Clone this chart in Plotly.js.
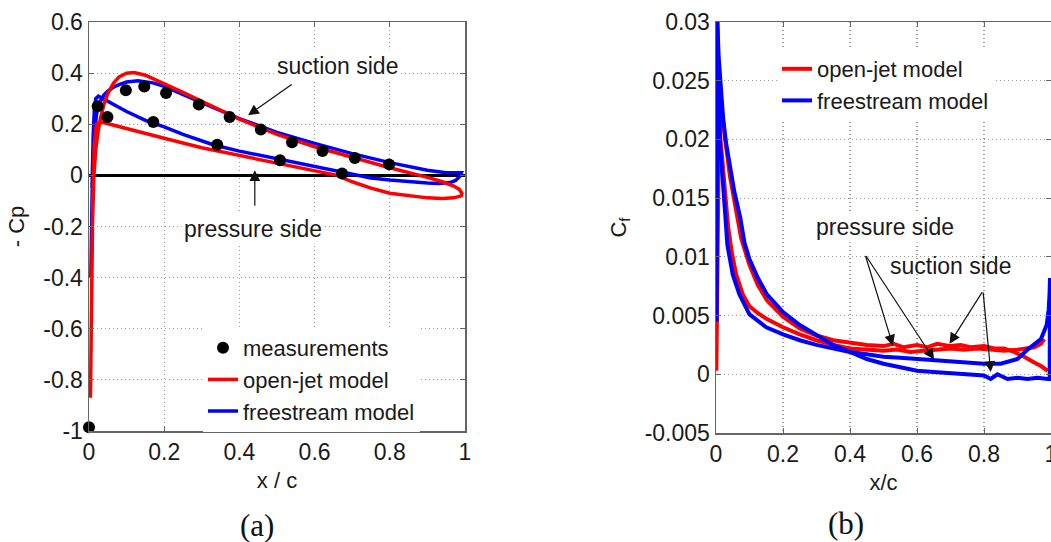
<!DOCTYPE html>
<html>
<head>
<meta charset="utf-8">
<script src="https://cdn.plot.ly/plotly-3.0.1.min.js"></script>
<style>
html,body{margin:0;padding:0;background:#fff;overflow:hidden;}
#chart{width:1051px;height:542px;}
</style>
</head>
<body>
<div id="chart"></div>
<script>
// ---------- (a) pressure coefficient, -Cp vs x/c ----------
const cpOpenX = [0.004,0.006,0.009,0.013,0.018,0.024,0.03,0.04,0.05,0.065,0.08,0.1,0.12,0.15,0.2,0.25,0.3,0.35,0.4,0.45,0.5,0.6,0.7,0.8,0.9,0.94,0.97,0.985,0.992,0.99,0.97,0.94,0.9,0.85,0.8,0.75,0.7,0.66,0.6,0.5,0.4,0.3,0.2,0.1,0.06,0.04,0.03,0.02,0.014,0.01,0.007];
const cpOpenY = [-0.87,-0.5,-0.2,0.0,0.1,0.17,0.22,0.28,0.32,0.36,0.385,0.4,0.402,0.392,0.36,0.325,0.29,0.255,0.22,0.19,0.16,0.112,0.07,0.03,-0.008,-0.025,-0.042,-0.055,-0.07,-0.08,-0.088,-0.09,-0.088,-0.08,-0.07,-0.05,-0.025,0.0,0.018,0.045,0.075,0.108,0.145,0.185,0.2,0.207,0.21,0.2,0.12,-0.1,-0.5];

const cpFreeX = [0.005,0.007,0.009,0.012,0.016,0.02,0.03,0.04,0.05,0.065,0.08,0.1,0.13,0.17,0.2,0.25,0.3,0.4,0.5,0.6,0.7,0.8,0.9,0.95,0.98,0.99,0.985,0.975,0.96,0.93,0.9,0.85,0.8,0.75,0.7,0.6,0.5,0.4,0.33,0.25,0.2,0.15,0.1,0.06,0.04,0.025,0.018,0.014,0.011,0.008];
const cpFreeY = [-0.4,-0.15,0.0,0.12,0.2,0.24,0.29,0.315,0.33,0.345,0.355,0.365,0.37,0.362,0.348,0.318,0.285,0.222,0.168,0.125,0.085,0.05,0.02,0.01,0.008,0.01,-0.005,-0.02,-0.028,-0.032,-0.03,-0.025,-0.018,-0.01,0.005,0.035,0.065,0.095,0.12,0.16,0.19,0.215,0.25,0.28,0.295,0.31,0.30,0.25,0.15,-0.05];

const measX = [0.0,0.023,0.049,0.098,0.147,0.171,0.205,0.292,0.341,0.374,0.457,0.508,0.54,0.621,0.673,0.707,0.798];
const measY = [-0.985,0.27,0.228,0.333,0.348,0.209,0.322,0.277,0.12,0.228,0.179,0.059,0.13,0.095,0.007,0.068,0.043];

// ---------- (b) skin friction coefficient, Cf vs x/c ----------
const cfOpenAX = [0.001,0.002,0.004,0.008,0.015,0.025,0.042,0.06,0.075,0.1,0.125,0.152,0.2,0.25,0.3,0.35,0.4,0.45,0.5,0.53,0.56,0.6,0.63,0.66,0.7,0.73,0.76,0.8,0.83,0.86,0.89,0.92,0.95,0.97,0.99];
const cfOpenAY = [0.0003,0.0045,0.014,0.019,0.0234,0.0205,0.0168,0.0138,0.0116,0.0093,0.0076,0.0063,0.0049,0.0039,0.0033,0.0029,0.0027,0.0025,0.0024,0.0026,0.0023,0.0025,0.0023,0.0026,0.0024,0.0025,0.0023,0.0024,0.0022,0.0022,0.0019,0.0015,0.0010,0.0007,0.0003];

const cfOpenBX = [0.004,0.01,0.016,0.025,0.036,0.047,0.06,0.08,0.1,0.125,0.152,0.2,0.25,0.3,0.35,0.4,0.45,0.5,0.54,0.58,0.62,0.66,0.7,0.74,0.78,0.82,0.86,0.9,0.93,0.95,0.97,0.98];
const cfOpenBY = [0.015,0.021,0.0192,0.0158,0.0126,0.0104,0.0085,0.0068,0.0058,0.0052,0.0047,0.0040,0.0034,0.0029,0.0025,0.0022,0.0021,0.0020,0.0021,0.0019,0.0020,0.0021,0.0022,0.0021,0.0022,0.0021,0.0020,0.0021,0.0022,0.0023,0.0026,0.0030];

const cfFreeAX = [0.002,0.004,0.007,0.012,0.021,0.034,0.05,0.07,0.1,0.15,0.2,0.25,0.3,0.35,0.4,0.45,0.5,0.55,0.6,0.65,0.7,0.75,0.8,0.85,0.9,0.93,0.95,0.97,0.987,0.993,0.996,0.997];
const cfFreeAY = [0.0045,0.030,0.0245,0.0196,0.0162,0.0110,0.0085,0.0068,0.0051,0.0040,0.0034,0.0029,0.0025,0.0022,0.0019,0.0017,0.0015,0.0014,0.0013,0.0012,0.0011,0.0010,0.0009,0.0009,0.0013,0.0021,0.0025,0.0030,0.0042,0.0055,0.0070,0.0082];

const cfFreeBX = [0.003,0.004,0.008,0.014,0.021,0.03,0.042,0.055,0.072,0.085,0.1,0.125,0.152,0.2,0.25,0.3,0.35,0.4,0.45,0.5,0.55,0.6,0.65,0.7,0.75,0.8,0.82,0.84,0.87,0.9,0.93,0.96,0.99,0.996,0.997];
const cfFreeBY = [0.02,0.030,0.027,0.0245,0.0219,0.0197,0.0177,0.0155,0.0134,0.0112,0.0098,0.0082,0.0068,0.0053,0.0042,0.0033,0.0025,0.0019,0.0013,0.0009,0.0006,0.0003,0.0002,0.0001,0.0,-0.0001,-0.0004,0.0,-0.0004,-0.0003,-0.0004,-0.0003,-0.0004,-0.0004,0.0082];

// ---------- ticks ----------
const xTickVals = [0,0.2,0.4,0.6,0.8,1];
const xTickText = ['0','0.2','0.4','0.6','0.8','1'];
const cpTickVals = [-1,-0.8,-0.6,-0.4,-0.2,0,0.2,0.4,0.6];
const cpTickText = ['-1','-0.8','-0.6','-0.4','-0.2','0','0.2','0.4','0.6'];
const cfTickVals = [-0.005,0,0.005,0.01,0.015,0.02,0.025,0.03];
const cfTickText = ['-0.005','0','0.005','0.01','0.015','0.02','0.025','0.03'];

const RED = '#ff0000', BLUE = '#0000ff';
const FONT = 'Liberation Sans, Arial, Helvetica, sans-serif';
const SERIF = 'Liberation Serif, DejaVu Serif, serif';
const TXT = '#1a1a1a';

const traces = [
  {x: cpFreeX, y: cpFreeY, xaxis:'x', yaxis:'y', mode:'lines', name:'freestream model',
   line:{color:BLUE, width:3.5}, legend:'legend', legendrank:3},
  {x: cpOpenX, y: cpOpenY, xaxis:'x', yaxis:'y', mode:'lines', name:'open-jet model',
   line:{color:RED, width:3.5}, legend:'legend', legendrank:2},
  {x: measX, y: measY, xaxis:'x', yaxis:'y', mode:'markers', name:'measurements',
   marker:{color:'#000', size:12}, cliponaxis:false, legend:'legend', legendrank:1},

  {x: cfOpenAX, y: cfOpenAY, xaxis:'x2', yaxis:'y2', mode:'lines', name:'open-jet model',
   line:{color:RED, width:4}, legend:'legend2', legendrank:1},
  {x: cfOpenBX, y: cfOpenBY, xaxis:'x2', yaxis:'y2', mode:'lines', name:'open-jet model',
   line:{color:RED, width:4}, showlegend:false, legend:'legend2'},
  {x: cfFreeAX, y: cfFreeAY, xaxis:'x2', yaxis:'y2', mode:'lines', name:'freestream model',
   line:{color:BLUE, width:4}, legend:'legend2', legendrank:2},
  {x: cfFreeBX, y: cfFreeBY, xaxis:'x2', yaxis:'y2', mode:'lines', name:'freestream model',
   line:{color:BLUE, width:4}, showlegend:false, legend:'legend2'}
];

const axisCommon = {
  showline:true, linecolor:'#666', linewidth:1.5, mirror:'ticks',
  ticks:'inside', ticklen:5, tickcolor:'#666',
  showgrid:true, gridcolor:'#999', griddash:'1px,3px', gridwidth:1.2,
  zeroline:false, automargin:false, fixedrange:true,
  tickfont:{family:FONT, size:23, color:TXT}
};

const W = 1051, H = 542;
const layout = {
  width:W, height:H,
  margin:{l:0, r:0, t:0, b:0},
  paper_bgcolor:'#fff', plot_bgcolor:'#fff',
  font:{family:FONT, color:TXT},
  xaxis: Object.assign({}, axisCommon, {
    domain:[89/W, 465/W], range:[0,1], tickmode:'array', tickvals:xTickVals, ticktext:xTickText,
    anchor:'y', title:{text:'x / c', font:{family:FONT, size:22, color:TXT}, standoff:8}
  }),
  yaxis: Object.assign({}, axisCommon, {
    domain:[1-431/H, 1-22/H], range:[-1,0.6], tickmode:'array', tickvals:cpTickVals, ticktext:cpTickText,
    anchor:'x', zeroline:true, zerolinecolor:'#000', zerolinewidth:2.5,
    title:{text:'- Cp', font:{family:FONT, size:22, color:TXT}, standoff:12}
  }),
  xaxis2: Object.assign({}, axisCommon, {
    domain:[716/W, 1], range:[0,1], tickmode:'array', tickvals:xTickVals, ticktext:xTickText,
    anchor:'y2', ticklabeloverflow:'allow',
    title:{text:'x/c', font:{family:FONT, size:22, color:TXT}, standoff:8}
  }),
  yaxis2: Object.assign({}, axisCommon, {
    domain:[1-433/H, 1-22/H], range:[-0.005,0.03], tickmode:'array', tickvals:cfTickVals, ticktext:cfTickText,
    anchor:'x2',
    title:{text:'C<sub>f</sub>', font:{family:FONT, size:22, color:TXT}, standoff:12}
  }),
  legend:{x:203/W, y:1-327/H, xanchor:'left', yanchor:'top', bgcolor:'#fff', borderwidth:0,
    font:{family:FONT, size:22, color:TXT}, tracegroupgap:0, traceorder:'normal'},
  legend2:{x:777/W, y:1-48/H, xanchor:'left', yanchor:'top', bgcolor:'#fff', borderwidth:0,
    font:{family:FONT, size:22, color:TXT}, tracegroupgap:0, traceorder:'normal'},
  annotations:[
    {xref:'x', yref:'y', x:0.66, y:0.426, text:'suction side', showarrow:false, bgcolor:'#fff',
     font:{family:FONT, size:23, color:TXT}, borderpad:2},
    {xref:'x', yref:'y', x:0.436, y:-0.211, text:'pressure side', showarrow:false, bgcolor:'#fff',
     font:{family:FONT, size:23, color:TXT}, borderpad:2},
    {xref:'x', yref:'y', axref:'x', ayref:'y', x:0.423, y:0.235, ax:0.543, ay:0.36, text:'',
     showarrow:true, arrowhead:2, arrowsize:1.8, arrowwidth:1.2, arrowcolor:'#111'},
    {xref:'x', yref:'y', axref:'x', ayref:'y', x:0.441, y:0.02, ax:0.441, ay:-0.125, text:'',
     showarrow:true, arrowhead:2, arrowsize:1.8, arrowwidth:1.2, arrowcolor:'#111'},

    {xref:'x2', yref:'y2', x:0.504, y:0.01258, text:'pressure side', showarrow:false, bgcolor:'#fff',
     font:{family:FONT, size:23, color:TXT}, borderpad:2},
    {xref:'x2', yref:'y2', x:0.70, y:0.00926, text:'suction side', showarrow:false,
     font:{family:FONT, size:23, color:TXT}},
    {xref:'x2', yref:'y2', axref:'x2', ayref:'y2', x:0.528, y:0.00244, ax:0.445, ay:0.0102, text:'',
     showarrow:true, arrowhead:2, arrowsize:1.8, arrowwidth:1.2, arrowcolor:'#111'},
    {xref:'x2', yref:'y2', axref:'x2', ayref:'y2', x:0.651, y:0.00125, ax:0.445, ay:0.0102, text:'',
     showarrow:true, arrowhead:2, arrowsize:1.8, arrowwidth:1.2, arrowcolor:'#111'},
    {xref:'x2', yref:'y2', axref:'x2', ayref:'y2', x:0.697, y:0.0026, ax:0.797, ay:0.0071, text:'',
     showarrow:true, arrowhead:2, arrowsize:1.8, arrowwidth:1.2, arrowcolor:'#111'},
    {xref:'x2', yref:'y2', axref:'x2', ayref:'y2', x:0.82, y:0.0002, ax:0.797, ay:0.0071, text:'',
     showarrow:true, arrowhead:2, arrowsize:1.8, arrowwidth:1.2, arrowcolor:'#111'},

    {xref:'paper', yref:'paper', x:257/W, y:1-525/H, xanchor:'center', yanchor:'middle', text:'(a)', showarrow:false,
     font:{family:SERIF, size:31, color:'#111'}},
    {xref:'paper', yref:'paper', x:846/W, y:1-523/H, xanchor:'center', yanchor:'middle', text:'(b)', showarrow:false,
     font:{family:SERIF, size:31, color:'#111'}}
  ]
};

Plotly.newPlot('chart', traces, layout, {displayModeBar:false, staticPlot:true});
</script>
</body>
</html>
